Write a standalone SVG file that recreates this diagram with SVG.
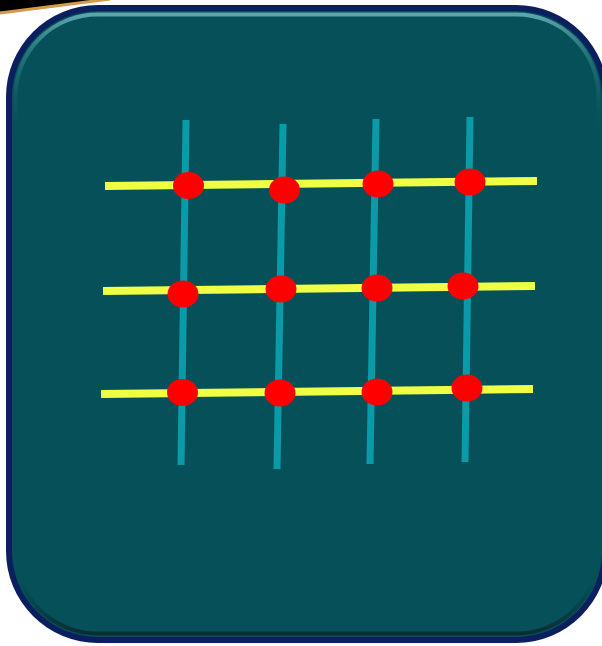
<svg xmlns="http://www.w3.org/2000/svg" width="602" height="646" viewBox="0 0 602 646">
<defs>
<linearGradient id="hi" x1="0" y1="0" x2="0" y2="1">
<stop offset="0" stop-color="#5aa6ac" stop-opacity="1"/>
<stop offset="0.06" stop-color="#3f8f96" stop-opacity="0.6"/>
<stop offset="0.2" stop-color="#065159" stop-opacity="0"/>
<stop offset="0.88" stop-color="#065159" stop-opacity="0"/>
<stop offset="1" stop-color="#0b2c33" stop-opacity="1"/>
</linearGradient>
<style>
.v{stroke:#0a9aa8;stroke-width:7;fill:none}
.h{stroke:#eeff44;stroke-width:8;fill:none}
.d{fill:#ff0000}
</style>
</defs>
<rect width="602" height="646" fill="#ffffff"/>
<polygon points="0,0 108,0 0,12" fill="#000000"/>
<line x1="0" y1="13" x2="110" y2="-1" stroke="#d4994a" stroke-width="3"/>
<g id="box">
<rect x="6" y="5" width="602" height="638" rx="92" ry="92" fill="#0b1f5e"/>
<rect x="12" y="11" width="590" height="626" rx="86" ry="86" fill="#065159"/>
<rect x="15.5" y="14.5" width="583" height="619" rx="82" ry="82" fill="none" stroke="url(#hi)" stroke-width="4"/>
</g>
<g id="connectors">
<line class="v" x1="186" y1="120" x2="181" y2="465"/>
<line class="v" x1="283" y1="124" x2="277" y2="469"/>
<line class="v" x1="376" y1="119" x2="370" y2="464"/>
<line class="v" x1="470" y1="117" x2="465" y2="462"/>
<line class="h" x1="105" y1="186" x2="537" y2="181"/>
<line class="h" x1="103" y1="291" x2="535" y2="286"/>
<line class="h" x1="101" y1="394" x2="533" y2="389"/>
</g>
<g id="n11"><ellipse class="d" cx="188.5" cy="185.5" rx="15.5" ry="13.5"/></g>
<g id="n12"><ellipse class="d" cx="284.5" cy="190" rx="15.5" ry="13.5"/></g>
<g id="n13"><ellipse class="d" cx="378" cy="184" rx="15.5" ry="13.5"/></g>
<g id="n14"><ellipse class="d" cx="470" cy="182" rx="15.5" ry="13.5"/></g>
<g id="n21"><ellipse class="d" cx="183" cy="294" rx="15.5" ry="13.5"/></g>
<g id="n22"><ellipse class="d" cx="281" cy="289" rx="15.5" ry="13.5"/></g>
<g id="n23"><ellipse class="d" cx="377" cy="288" rx="15.5" ry="13.5"/></g>
<g id="n24"><ellipse class="d" cx="463" cy="286" rx="15.5" ry="13.5"/></g>
<g id="n31"><ellipse class="d" cx="182.5" cy="392.5" rx="15.5" ry="13.5"/></g>
<g id="n32"><ellipse class="d" cx="280" cy="393" rx="15.5" ry="13.5"/></g>
<g id="n33"><ellipse class="d" cx="377" cy="392" rx="15.5" ry="13.5"/></g>
<g id="n34"><ellipse class="d" cx="467" cy="388" rx="15.5" ry="13.5"/></g>
</svg>
